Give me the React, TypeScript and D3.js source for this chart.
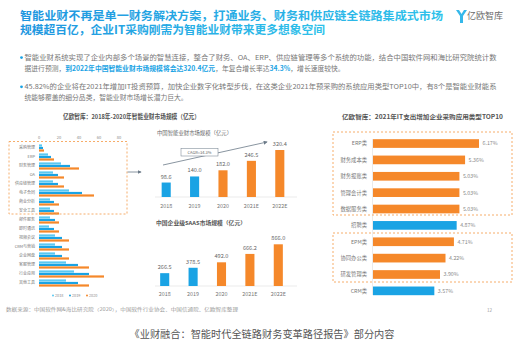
import React from "react";
import * as d3 from "d3";

const leftCategories = ["采购管理", "ERP", "财务管理", "OA", "供应链管理", "电子合同", "商业分析", "安全工具", "邮件服务", "即时通讯", "视频会议", "CRM与营销", "企业网盘", "客服管理", "行业应用", "其他工具"];
const leftYears = ["2018", "2019", "2020"];
const left2018 = [3, 9, 22, 14, 14, 30, 11, 11, 11, 10, 16, 16, 16, 27, 35, 27];
const left2019 = [4, 12, 31, 19, 19, 43, 15, 15, 16, 15, 23, 23, 23, 39, 50, 39];
const left2020 = [5, 15, 40, 25, 25, 55, 20, 20, 20, 20, 30, 30, 30, 50, 65, 50];
const leftTicks = [0, 20, 40, 60, 80];

const midYears = ["2018", "2019", "2020", "2021E", "2022E"];
const smartFinance = [98.6, 140.0, 182.0, 246.5, 320.4];
const saasMarket = [266.5, 378.5, 492.0, 666.2, 866.0];

const topCategories = ["ERP类", "财务成本类", "财务报账类", "管理会计类", "数据服务类", "招聘类", "EPM类", "协同办公类", "研发管理类", "CRM类"];
const topValues = [6.17, 5.36, 5.03, 5.03, 5.03, 4.87, 4.71, 4.22, 3.9, 3.57];
const topHighlighted = [true, true, true, true, true, false, true, true, true, false];

const BLUE = "#1aa3e4";
const LIGHTBLUE = "#5cc8f2";
const ORANGE = "#f5882a";
const FONT = "'Noto Sans CJK SC', 'Noto Sans', sans-serif";

export default function App() {
  // left chart
  const lx = d3.scaleLinear().domain([0, 80]).range([39, 119]);
  const ly = d3.scaleBand<string>().domain(leftCategories).range([143.5, 287.5]);
  const lsub = d3.scaleBand<string>().domain(leftYears).range([-3.6, 3.6]).paddingInner(0.12);
  const leftSeries = [left2018, left2019, left2020];
  const leftColors = [LIGHTBLUE, BLUE, ORANGE];

  // middle charts
  const mx = d3.scaleBand<string>().domain(midYears).range([152, 294]).paddingInner(0.68).paddingOuter(0.34);
  const my1 = d3.scaleLinear().domain([0, 320.4]).range([197, 150]);
  const my2 = d3.scaleLinear().domain([0, 866]).range([286, 244.3]);
  const midColor = (i: number) => (i < 2 ? BLUE : ORANGE);

  // right chart
  const rx = d3.scaleLinear().domain([0, 6.17]).range([373, 479]);
  const ry = d3.scaleBand<string>().domain(topCategories).range([139.2, 295.2]).paddingInner(0.47);

  return (
    <svg width={524} height={345} style={{ position: "absolute", left: 0, top: 0, background: "#fff" }} fontFamily={FONT}>
      <defs>
        <linearGradient id="tg" x1="0" x2="1" y1="0" y2="0">
          <stop offset="0" stopColor="#1f95df" />
          <stop offset="1" stopColor="#2fc1ea" />
        </linearGradient>
        <marker id="arr" viewBox="0 0 6 6" refX="5" refY="3" markerWidth="5" markerHeight="5" orient="auto">
          <path d="M0,0 L6,3 L0,6 z" fill="#6b7a88" />
        </marker>
      </defs>
      <rect x={0} y={0} width={524} height={345} fill="#fff" />

      {/* title */}
      <text x={20} y={19.5} fontSize={11.6} fontWeight={700} fill="url(#tg)" textLength={423} lengthAdjust="spacingAndGlyphs">智能业财不再是单一财务解决方案，打通业务、财务和供应链全链路集成式市场</text>
      <text x={20} y={33.8} fontSize={11.6} fontWeight={700} fill="url(#tg)" textLength={305} lengthAdjust="spacingAndGlyphs">规模超百亿，企业IT采购刚需为智能业财带来更多想象空间</text>

      {/* logo */}
      <g>
        <path d="M456,10 L460,16 L460,23 L463,23 L463,16 L467,10 L464,10 L461.5,14 L459,10 z" fill="#35b8ea" />
        <text x={467} y={19} fontSize={8.6} fill="#6a6a6a" textLength={36} lengthAdjust="spacingAndGlyphs">亿欧智库</text>
      </g>

      {/* bullets */}
      <g fontSize={6.8} fill="#777">
        <circle cx={21.5} cy={57.6} r={1.4} fill={BLUE} />
        <text x={24.5} y={60} textLength={472} lengthAdjust="spacingAndGlyphs">智能业财系统实现了企业内部多个场景的智慧连接，整合了财务、OA、ERP、供应链管理等多个系统的功能，结合中国软件网和海比研究院统计数</text>
        <text x={24.5} y={71}>
          据进行预测，<tspan fill={BLUE} fontWeight={700}>到2022年中国智能业财市场规模将会达320.4亿元</tspan>，年复合增长率达<tspan fill={BLUE} fontWeight={700}>34.3%</tspan>，增长速度较快。
        </text>
        <circle cx={21.5} cy={86.8} r={1.4} fill={BLUE} />
        <text x={24.5} y={89.2} textLength={472} lengthAdjust="spacingAndGlyphs">45.82%的企业将在2021年增加IT投资预算，加快企业数字化转型步伐，在这类企业2021年预采购的系统应用类型TOP10中，有8个是智能业财能系</text>
        <text x={24.5} y={100}>统能够覆盖的细分品类，智能业财市场增长潜力巨大。</text>
      </g>

      {/* left chart title */}
      <text x={63} y={118.5} fontSize={6.6} fontWeight={700} fill="#555" textLength={137} lengthAdjust="spacingAndGlyphs">亿欧智库：2018年-2020年智能业财市场规模（亿元）</text>

      {/* left chart */}
      <g>
        {leftTicks.map((t) => (
          <text key={t} x={lx(t)} y={138.5} fontSize={4} fill="#888" textAnchor="middle">{t}</text>
        ))}
        {leftCategories.map((c, i) => (
          <g key={c}>
            <text x={35} y={(ly(c) as number) + ly.bandwidth() / 2 + 1.4} fontSize={4} fill="#777" textAnchor="end">{c}</text>
            {leftSeries.map((s, k) => (
              <rect key={k} x={lx(0)} y={(ly(c) as number) + ly.bandwidth() / 2 + (lsub(leftYears[k]) as number)} width={lx(s[i]) - lx(0)} height={lsub.bandwidth()} fill={leftColors[k]} />
            ))}
          </g>
        ))}
        <rect x={9} y={141.5} width={118} height={72.5} fill="none" stroke="#f5a45a" strokeWidth={0.9} strokeDasharray="2,2" />
        <line x1={127.5} y1={172} x2={141} y2={172} stroke="#6b7a88" strokeWidth={0.8} markerEnd="url(#arr)" />
        {leftYears.map((y, k) => (
          <g key={y}>
            <circle cx={53 + k * 17} cy={295.5} r={1} fill={leftColors[k]} />
            <text x={55 + k * 17} y={297} fontSize={3.8} fill="#888">{y}</text>
          </g>
        ))}
      </g>

      {/* middle top chart */}
      <g>
        <text x={157} y={135} fontSize={5.2} fill="#666" textLength={75} lengthAdjust="spacingAndGlyphs">中国智能业财市场规模（亿元）</text>
        <line x1={155} x2={297} y1={197} y2={197} stroke="#ddd" strokeWidth={0.6} />
        {midYears.map((y, i) => (
          <g key={y}>
            <rect x={mx(y)} y={my1(smartFinance[i])} width={mx.bandwidth()} height={my1(0) - my1(smartFinance[i])} fill={midColor(i)} />
            <text x={(mx(y) as number) + mx.bandwidth() / 2} y={my1(smartFinance[i]) - 4} fontSize={5.6} fill="#666" textAnchor="middle">{smartFinance[i].toFixed(1)}</text>
            <text x={(mx(y) as number) + mx.bandwidth() / 2} y={208} fontSize={5.4} fill="#777" textAnchor="middle">{y}</text>
          </g>
        ))}
        <line x1={163} y1={165} x2={267} y2={142} stroke="#6b7a88" strokeWidth={0.8} markerEnd="url(#arr)" />
        <rect x={181} y={148.5} width={37} height={7.5} fill="#fff" stroke="#6b7a88" strokeWidth={0.5} />
        <text x={199.5} y={153.8} fontSize={4} fill="#666" textAnchor="middle">CAGR=34.3%</text>
      </g>

      {/* middle bottom chart */}
      <g>
        <text x={156} y={225} fontSize={5.4} fontWeight={700} fill="#555" textLength={90} lengthAdjust="spacingAndGlyphs">中国企业级SAAS市场规模（亿元）</text>
        <line x1={155} x2={297} y1={286} y2={286} stroke="#ddd" strokeWidth={0.6} />
        {midYears.map((y, i) => (
          <g key={y}>
            <rect x={(mx(y) as number) - 1.5} y={my2(saasMarket[i])} width={mx.bandwidth()} height={my2(0) - my2(saasMarket[i])} fill={midColor(i)} />
            <text x={(mx(y) as number) - 1.5 + mx.bandwidth() / 2} y={my2(saasMarket[i]) - 4} fontSize={5.6} fill="#666" textAnchor="middle">{saasMarket[i].toFixed(1)}</text>
            <text x={(mx(y) as number) - 1.5 + mx.bandwidth() / 2} y={296} fontSize={5.4} fill="#777" textAnchor="middle">{y}</text>
          </g>
        ))}
      </g>

      {/* right chart */}
      <g>
        <text x={342} y={118.5} fontSize={6.2} fontWeight={700} fill="#555" textLength={161} lengthAdjust="spacingAndGlyphs">亿欧智库：2021年IT支出增加企业采购应用类型TOP10</text>
        <line x1={372.5} x2={372.5} y1={139} y2={295} stroke="#ddd" strokeWidth={0.6} />
        {topCategories.map((c, i) => (
          <g key={c}>
            <rect x={rx(0)} y={ry(c)} width={rx(topValues[i]) - rx(0)} height={ry.bandwidth()} fill={topHighlighted[i] ? ORANGE : BLUE} />
            <text x={367} y={(ry(c) as number) + ry.bandwidth() / 2 + 1.9} fontSize={5.3} fill="#777" textAnchor="end">{c}</text>
            <text x={rx(topValues[i]) + 3.5} y={(ry(c) as number) + ry.bandwidth() / 2 + 1.9} fontSize={5.3} fill="#888">{topValues[i].toFixed(2)}%</text>
          </g>
        ))}
        <rect x={333} y={132} width={179} height={83} fill="none" stroke="#f5a45a" strokeWidth={0.9} strokeDasharray="2,2" />
        <rect x={333} y={233} width={179} height={49} fill="none" stroke="#f5a45a" strokeWidth={0.9} strokeDasharray="2,2" />
      </g>

      {/* footer */}
      <text x={6} y={310.5} fontSize={4.2} fill="#999" textLength={232} lengthAdjust="spacingAndGlyphs">数据来源：中国软件网&amp;海比研究院（2020），中国软件行业协会、中国信通院、亿欧智库整理</text>
      <text x={487} y={311.5} fontSize={4.6} fill="#999">12</text>
      <text x={262} y={337.5} fontSize={9.8} fill="#555" textAnchor="middle" textLength={265} lengthAdjust="spacingAndGlyphs">《业财融合：智能时代全链路财务变革路径报告》部分内容</text>
    </svg>
  );
}
